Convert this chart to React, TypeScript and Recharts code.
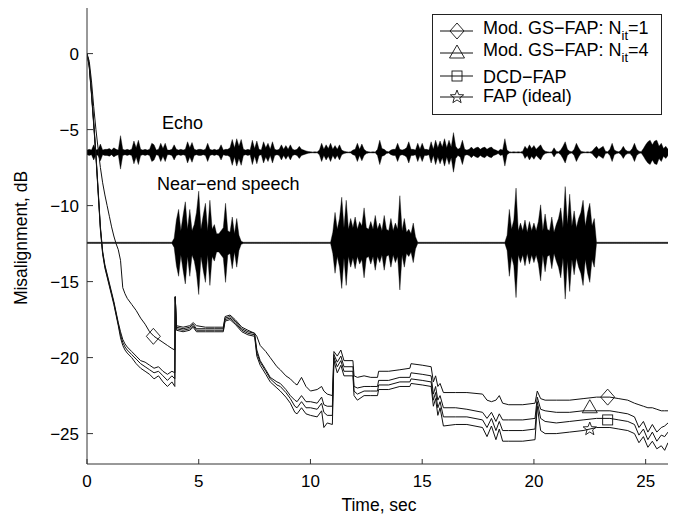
import React from 'react';
import { ComposedChart, Line, Area, XAxis, YAxis } from 'recharts';

const X_TICKS = [0, 5, 10, 15, 20, 25];
const Y_TICKS = [-25, -20, -15, -10, -5, 0];

// centre levels of the two signal traces drawn on the plot, dB
const ECHO_LEVEL = -6.5;
const SPEECH_LEVEL = -12.45;
const SPEECH_FLOOR = 0.04;

// echo envelope half-width, one value every 0.1 s from 0 to 26 s
const echoAmp = [
  0.15, 0.2, 0.15, 0.5, 0.15, 0.2, 0.55, 0.15, 0.2, 0.2,
  0.25, 0.15, 0.3, 0.2, 0.15, 1.1, 0.2, 0.15, 0.2, 0.15,
  0.2, 0.75, 0.3, 0.8, 0.2, 0.15, 0.2, 0.15, 0.2, 0.6,
  0.5, 0.15, 0.2, 0.6, 0.25, 0.6, 0.15, 0.15, 0.2, 0.5,
  0.2, 0.15, 0.2, 0.15, 0.2, 0.7, 0.3, 0.65, 0.2, 0.15,
  0.2, 0.2, 0.15, 0.2, 0.6, 0.2, 0.15, 0.2, 0.15, 0.2,
  0.5, 0.15, 0.2, 0.2, 0.3, 0.85, 0.3, 0.9, 0.4, 0.85,
  0.2, 0.15, 0.2, 0.15, 0.8, 0.25, 0.75, 0.2, 0.15, 0.7,
  0.3, 0.6, 0.2, 0.7, 0.2, 0.15, 0.2, 0.5, 0.2, 0.45,
  0.2, 0.5, 0.2, 0.15, 0.2, 0.4, 0.2, 0.15, 0.1, 0.06,
  0.04, 0.03, 0.04, 0.03, 0.15, 0.6, 0.2, 0.5, 0.25, 0.6,
  0.2, 0.45, 0.2, 0.5, 0.15, 0.08, 0.04, 0.03, 0.04, 0.15,
  0.2, 0.6, 0.2, 0.55, 0.2, 0.08, 0.04, 0.03, 0.04, 0.03,
  0.2, 0.8, 0.25, 0.2, 0.08, 0.04, 0.15, 0.2, 0.2, 0.6,
  0.2, 0.15, 0.2, 0.3, 0.7, 0.2, 0.2, 0.15, 0.6, 0.2,
  0.6, 0.2, 0.2, 0.15, 0.7, 0.2, 0.8, 0.3, 0.75, 0.35,
  0.9, 0.3, 0.8, 0.35, 1.3, 0.4, 0.2, 0.3, 0.8, 0.2,
  0.15, 0.2, 0.35, 0.2, 0.3, 0.35, 0.2, 0.3, 0.35, 0.2,
  0.3, 0.35, 0.2, 0.15, 0.08, 0.2, 0.15, 0.9, 0.15, 0.04,
  0.03, 0.04, 0.03, 0.04, 0.03, 0.08, 0.4, 0.2, 0.5, 0.25,
  0.45, 0.2, 0.35, 0.5, 0.2, 0.08, 0.04, 0.03, 0.04, 0.3,
  0.08, 0.04, 0.15, 0.4, 0.7, 0.2, 0.08, 0.04, 0.2, 0.6,
  0.3, 0.08, 0.04, 0.03, 0.04, 0.03, 0.08, 0.25, 0.4, 0.2,
  0.3, 0.4, 0.08, 0.04, 0.2, 0.6, 0.15, 0.08, 0.04, 0.15,
  0.4, 0.15, 0.08, 0.08, 0.25, 0.6, 0.2, 0.08, 0.04, 0.25,
  0.5, 0.7, 0.8, 0.5, 0.75, 0.8, 0.4, 0.6, 0.25, 0.4,
  0.2,
];

// near-end speech bursts: envelope half-widths every 0.1 s from the start time
const burst1Start = 3.9;
const burst1 = [
  0.3, 1.5, 2.2, 0.8, 1.8, 2.7, 0.9, 2.2, 0.8, 1.2, 2.0, 3.4, 0.9, 1.8, 2.6, 0.8,
  2.8, 0.9, 1.2, 0.6, 0.6, 0.8, 1.0, 2.6, 0.8, 0.7, 1.7, 0.6, 1.6, 0.5, 0.1,
];
const burst2Start = 11.0;
const burst2 = [
  0.7, 2.0, 0.9, 1.6, 3.0, 1.0, 2.8, 0.9, 1.6, 1.0, 1.7, 0.9, 1.4, 1.1, 2.3, 1.0,
  0.9, 1.4, 0.9, 1.8, 0.9, 1.3, 0.8, 1.8, 0.9, 0.8, 1.6, 0.8, 1.3, 0.9, 3.1, 0.8,
  1.6, 0.7, 0.9, 0.6, 1.3, 0.4,
];
const burst3Start = 18.8;
const burst3 = [
  0.5, 2.2, 0.9, 1.5, 3.6, 0.8, 1.3, 0.8, 1.5, 0.7, 1.4, 0.8, 1.3, 0.8, 1.4, 2.5,
  0.8, 1.9, 0.9, 0.8, 1.7, 0.7, 1.2, 1.6, 2.3, 1.0, 3.7, 1.2, 3.2, 1.1, 2.1, 1.0,
  1.6, 2.0, 2.8, 1.1, 2.0, 2.6, 1.1, 1.6,
];

// misalignment curves, sec / dB
const curveT = [
  0, 0.1, 0.2, 0.3, 0.4, 0.5, 0.6, 0.7, 0.8, 0.9, 1.0, 1.1, 1.2, 1.3, 1.4, 1.5, 1.6, 1.7, 1.8,
  2.0, 2.2, 2.4, 2.6, 2.8, 3.0, 3.2, 3.4, 3.6, 3.8, 3.93,
  3.95, 4.0, 4.3, 4.6, 4.75, 4.9, 5.3, 5.7, 6.1, 6.18, 6.4, 6.63, 6.93, 7.2, 7.5, 7.6, 7.75,
  8.0, 8.2, 8.5, 8.65, 8.9, 9.1, 9.3, 9.4, 9.6, 9.8, 10.0, 10.3, 10.5, 10.6, 10.75, 10.98,
  11.05, 11.2, 11.36, 11.5, 11.9, 11.95, 12.1, 12.4, 12.7, 13.0, 13.05, 13.5, 14.0, 14.45, 14.5,
  15.0, 15.4, 15.5, 15.6, 15.7, 15.8, 15.95, 16.5, 17.0, 17.7, 17.9, 18.1, 18.3, 18.45, 18.6,
  18.87, 19.5, 20.05,
  20.15, 20.3, 20.5, 21.0, 21.6, 22.2, 22.8, 23.4, 23.8, 24.2, 24.5, 24.7, 24.9, 25.1, 25.3,
  25.5, 25.7, 25.85, 26.0,
];
const gsFap1 = [
  0, -0.5, -1.8, -3.5, -5.0, -6.3, -7.5, -8.5, -9.3, -10.0, -10.7, -11.4, -12.0, -12.5, -12.9, -13.6, -15.4, -15.8, -16.1,
  -16.5, -16.9, -17.4, -17.8, -18.3, -18.6, -18.8, -19.0, -19.2, -19.4, -19.5,
  -16.0, -17.9, -18.0, -17.9, -17.7, -17.9, -18.0, -18.0, -18.0, -17.3, -17.2, -17.5, -18.0, -18.2, -18.4, -18.6, -19.2,
  -19.6, -20.0, -20.6, -20.8, -21.2, -21.4, -21.7, -21.8, -21.3, -21.9, -22.2, -22.1, -21.9, -22.2, -22.4, -22.5,
  -19.6, -19.9, -19.5, -20.2, -20.2, -21.2, -21.3, -21.2, -21.3, -21.3, -20.9, -20.9, -20.8, -20.7, -20.4,
  -20.5, -20.6, -21.6, -21.2, -21.9, -21.7, -22.3, -22.3, -22.3, -22.4, -22.8, -22.9, -22.8, -22.5, -23.0,
  -23.1, -23.1, -23.0,
  -22.2, -22.7, -22.8, -22.8, -22.8, -22.7, -22.6, -22.6, -22.7, -22.8, -23.0, -23.1, -23.2, -23.3, -23.3,
  -23.4, -23.5, -23.5, -23.5,
];
const gsFap4 = [
  0, -0.8, -2.5, -4.5, -6.6, -9.0, -11.4, -13.0, -13.9, -14.5, -15.1, -15.7, -16.3, -17.0, -17.7, -18.3, -18.8, -19.1, -19.3,
  -19.6, -19.9, -20.2, -20.3, -20.5, -20.7, -20.6, -20.9, -21.1, -20.9, -21.0,
  -16.0, -18.0, -18.1, -18.0, -17.8, -18.1, -18.1, -18.1, -18.1, -17.4, -17.3, -17.6, -18.1, -18.3, -18.4, -19.5, -20.2,
  -20.8, -21.3, -21.6, -21.7, -22.1, -22.5, -22.8, -22.9, -22.5, -22.9, -22.9, -23.0, -22.6, -23.1, -23.2, -23.2,
  -19.8, -20.3, -19.9, -20.6, -20.6, -21.9, -22.0, -21.9, -21.9, -21.9, -21.5, -21.5, -21.3, -21.3, -21.0,
  -21.1, -21.2, -22.4, -21.9, -22.8, -22.5, -23.3, -23.3, -23.4, -23.6, -24.0, -23.6, -24.2, -23.7, -24.1,
  -24.1, -24.1, -24.0,
  -22.6, -23.4, -23.5, -23.6, -23.6, -23.5, -23.5, -23.5, -23.6, -23.7, -23.9, -24.6, -24.2, -24.9, -24.4,
  -24.9, -24.6, -24.5, -24.3,
];
const dcdFap = [
  0, -0.8, -2.6, -4.6, -6.7, -9.1, -11.5, -13.1, -14.0, -14.6, -15.2, -15.8, -16.4, -17.1, -17.8, -18.5, -19.0, -19.3, -19.5,
  -19.8, -20.1, -20.4, -20.6, -20.8, -21.0, -20.9, -21.2, -21.5, -21.2, -21.4,
  -16.0, -18.1, -18.2, -18.1, -17.9, -18.2, -18.2, -18.2, -18.2, -17.5, -17.4, -17.7, -18.2, -18.4, -18.5, -19.7, -20.3,
  -20.9, -21.4, -21.8, -21.9, -22.3, -22.7, -23.2, -23.3, -22.9, -23.3, -23.3, -23.4, -23.0, -23.6, -23.8, -23.8,
  -20.0, -20.6, -20.2, -20.9, -20.9, -22.2, -22.4, -22.2, -22.2, -22.2, -21.8, -21.8, -21.6, -21.6, -21.4,
  -21.5, -21.6, -22.8, -22.3, -23.3, -22.9, -23.9, -23.9, -23.9, -24.1, -24.6, -24.0, -24.8, -24.2, -24.8,
  -24.8, -24.8, -24.7,
  -22.9, -24.0, -24.2, -24.3, -24.2, -24.1, -24.0, -24.0, -24.1, -24.2, -24.4, -25.1, -24.7, -25.4, -24.9,
  -25.5, -25.1, -25.2, -24.9,
];
const fapIdeal = [
  0, -0.9, -2.7, -4.7, -6.8, -9.2, -11.6, -13.2, -14.1, -14.7, -15.3, -15.9, -16.5, -17.2, -17.9, -18.7, -19.2, -19.5, -19.7,
  -20.0, -20.4, -20.7, -20.9, -21.1, -21.4, -21.2, -21.6, -21.9, -21.6, -21.9,
  -16.0, -18.2, -18.3, -18.2, -18.0, -18.3, -18.3, -18.3, -18.3, -17.6, -17.5, -17.8, -18.3, -18.5, -18.6, -19.9, -20.5,
  -21.1, -21.6, -22.0, -22.2, -22.6, -23.0, -23.6, -23.7, -23.3, -23.7, -23.8, -23.9, -23.5, -24.6, -24.3, -24.4,
  -20.2, -21.0, -20.5, -21.2, -21.2, -22.5, -22.8, -22.5, -22.5, -22.5, -22.1, -22.1, -21.9, -21.9, -21.7,
  -21.8, -21.9, -23.2, -22.7, -23.8, -23.3, -24.5, -24.4, -24.4, -24.6, -25.2, -24.5, -25.4, -24.7, -25.5,
  -25.5, -25.5, -25.4,
  -23.2, -24.8, -25.0, -25.0, -24.9, -24.8, -24.6, -24.6, -24.7, -24.8, -25.0, -25.6, -25.2, -25.9, -25.5,
  -26.0, -25.8, -26.1, -25.6,
];

// where the curve markers sit
const diamondT = [2.97, 23.3];
const diamondY = [-18.6, -22.6];
const triangleT = [22.5];
const triangleY = [-23.3];
const squareT = [23.3];
const squareY = [-24.1];
const starT = [22.5];
const starY = [-24.7];

const INK = '#111';
const FONT = '"Liberation Sans", Arial, Helvetica, sans-serif';

const fmt = (v: number) => (v < 0 ? `\u2212${Math.abs(v)}` : `${v}`);

const echoData = echoAmp.map((a, i) => ({ t: i / 10, r: [ECHO_LEVEL - a, ECHO_LEVEL + a] }));

const bursts = [
  { start: burst1Start, amp: burst1 },
  { start: burst2Start, amp: burst2 },
  { start: burst3Start, amp: burst3 },
];
const speechData = echoAmp.map((_, i) => {
  const t = i / 10;
  let a = SPEECH_FLOOR;
  bursts.forEach((b) => {
    const k = Math.round((t - b.start) * 10);
    if (k >= 0 && k < b.amp.length) a = b.amp[k];
  });
  return { t, r: [SPEECH_LEVEL - a, SPEECH_LEVEL + a] };
});

const toSeries = (ys: number[]) => curveT.map((t, i) => ({ t, y: ys[i] }));
const toPoints = (ts: number[], ys: number[]) => ts.map((t, i) => ({ t, y: ys[i] }));

type Shape = 'diamond' | 'triangle' | 'square' | 'star';

const starPath = (cx: number, cy: number, r: number) => {
  const pts: string[] = [];
  for (let k = 0; k < 10; k++) {
    const rad = k % 2 === 0 ? r : r * 0.42;
    const a = -Math.PI / 2 + (k * Math.PI) / 5;
    pts.push(`${cx + rad * Math.cos(a)},${cy + rad * Math.sin(a)}`);
  }
  return pts.join(' ');
};

const Marker = ({ shape, cx, cy }: { shape: Shape; cx: number; cy: number }) => {
  const common = { fill: 'none', stroke: INK, strokeWidth: 0.9 };
  if (shape === 'diamond')
    return <polygon points={`${cx},${cy - 8} ${cx + 7},${cy} ${cx},${cy + 8} ${cx - 7},${cy}`} {...common} />;
  if (shape === 'triangle')
    return <polygon points={`${cx},${cy - 8} ${cx + 7.5},${cy + 5} ${cx - 7.5},${cy + 5}`} {...common} />;
  if (shape === 'square') return <rect x={cx - 5} y={cy - 5} width={10} height={10} {...common} />;
  return <polygon points={starPath(cx, cy, 7)} {...common} />;
};

const markerDot = (shape: Shape) => (p: any) => (
  <Marker key={`${shape}-${p.index}`} shape={shape} cx={p.cx} cy={p.cy} />
);

const legendRows: { shape: Shape; text: string; sub?: string; tail?: string }[] = [
  { shape: 'diamond', text: 'Mod. GS\u2212FAP: N', sub: 'it', tail: '=1' },
  { shape: 'triangle', text: 'Mod. GS\u2212FAP: N', sub: 'it', tail: '=4' },
  { shape: 'square', text: 'DCD\u2212FAP' },
  { shape: 'star', text: 'FAP (ideal)' },
];
const legendLineY = [17, 39, 62, 83];
const legendTextY = [19.5, 41.5, 69, 88];

const axisStroke = { stroke: '#333', strokeWidth: 1 };
const tickFont = { fontSize: 17, fill: '#000', fontFamily: FONT };

export default function App() {
  return (
    <div style={{ position: 'absolute', left: 0, top: 0, width: 679, height: 522, background: '#fff' }}>
      <ComposedChart width={679} height={522} margin={{ top: 8, right: 11, bottom: 0, left: 0 }}>
        <XAxis
          xAxisId="b"
          type="number"
          dataKey="t"
          domain={[0, 26]}
          ticks={X_TICKS}
          allowDataOverflow
          height={58}
          tickSize={-5}
          tickMargin={16}
          interval={0}
          axisLine={axisStroke}
          tickLine={axisStroke}
          tick={tickFont}
        />
        <XAxis
          xAxisId="top"
          orientation="top"
          type="number"
          dataKey="t"
          domain={[0, 26]}
          ticks={X_TICKS}
          allowDataOverflow
          height={0}
          tickSize={-5}
          tick={false}
          interval={0}
          axisLine={axisStroke}
          tickLine={axisStroke}
        />
        <YAxis
          yAxisId="l"
          type="number"
          domain={[-27, 3]}
          ticks={Y_TICKS}
          allowDataOverflow
          width={87}
          tickSize={-6}
          tickMargin={14}
          interval={0}
          tickFormatter={fmt}
          axisLine={axisStroke}
          tickLine={axisStroke}
          tick={tickFont}
        />
        <YAxis
          yAxisId="r"
          orientation="right"
          type="number"
          domain={[-27, 3]}
          ticks={Y_TICKS}
          allowDataOverflow
          width={0}
          tickSize={-6}
          tick={false}
          interval={0}
          axisLine={axisStroke}
          tickLine={axisStroke}
        />
        <Area
          xAxisId="b"
          yAxisId="l"
          data={echoData}
          dataKey="r"
          type="linear"
          fill="#000"
          fillOpacity={1}
          stroke="#000"
          strokeWidth={0.4}
          isAnimationActive={false}
        />
        <Area
          xAxisId="b"
          yAxisId="l"
          data={speechData}
          dataKey="r"
          type="linear"
          fill="#000"
          fillOpacity={1}
          stroke="#000"
          strokeWidth={0.4}
          isAnimationActive={false}
        />
        {[gsFap1, gsFap4, dcdFap, fapIdeal].map((ys, i) => (
          <Line
            key={`c${i}`}
            xAxisId="b"
            yAxisId="l"
            data={toSeries(ys)}
            dataKey="y"
            type="linear"
            stroke={INK}
            strokeWidth={1}
            dot={false}
            isAnimationActive={false}
          />
        ))}
        <Line xAxisId="b" yAxisId="l" data={toPoints(diamondT, diamondY)} dataKey="y" stroke="none"
          dot={markerDot('diamond')} isAnimationActive={false} />
        <Line xAxisId="b" yAxisId="l" data={toPoints(triangleT, triangleY)} dataKey="y" stroke="none"
          dot={markerDot('triangle')} isAnimationActive={false} />
        <Line xAxisId="b" yAxisId="l" data={toPoints(squareT, squareY)} dataKey="y" stroke="none"
          dot={markerDot('square')} isAnimationActive={false} />
        <Line xAxisId="b" yAxisId="l" data={toPoints(starT, starY)} dataKey="y" stroke="none"
          dot={markerDot('star')} isAnimationActive={false} />
      </ComposedChart>

      <svg
        width={679}
        height={522}
        style={{ position: 'absolute', left: 0, top: 0, pointerEvents: 'none' }}
        fontFamily={FONT}
      >
        <text x={162} y={129} fontSize={18} fill="#000">Echo</text>
        <text x={157} y={190} fontSize={18} fill="#000">Near{'\u2212'}end speech</text>
        <text x={379} y={511} fontSize={17.5} fill="#000" textAnchor="middle">Time, sec</text>
        <text x={27} y={238} fontSize={17.5} fill="#000" textAnchor="middle" transform="rotate(-90 27 238)">
          Misalignment, dB
        </text>
        <g transform="translate(432,14)">
          <rect x={0.5} y={0.5} width={229} height={100} fill="#fff" stroke="#222" strokeWidth={1} />
          {legendRows.map((row, i) => {
            const y = legendLineY[i];
            return (
              <g key={row.shape}>
                <line x1={8} x2={41} y1={y} y2={y} stroke={INK} strokeWidth={1} />
                <Marker shape={row.shape} cx={25} cy={y} />
                <text x={51} y={legendTextY[i]} fontSize={18} fill="#000">
                  {row.text}
                  {row.sub && (
                    <tspan dy={6} fontSize={13}>{row.sub}</tspan>
                  )}
                  {row.tail && <tspan dy={-6}>{row.tail}</tspan>}
                </text>
              </g>
            );
          })}
        </g>
      </svg>
    </div>
  );
}
